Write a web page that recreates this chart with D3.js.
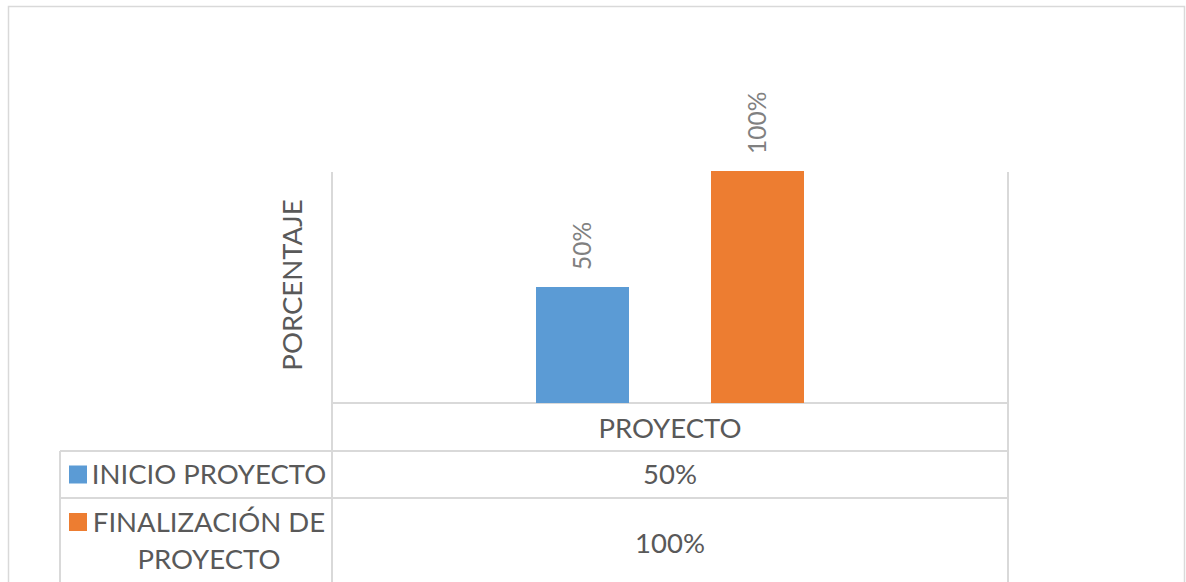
<!DOCTYPE html>
<html>
<head>
<meta charset="utf-8">
<script src="https://cdn.jsdelivr.net/npm/d3@7"></script>
<style>
  html, body { margin: 0; padding: 0; background: #fff; }
  svg { display: block; }
  text { font-family: Lato, "Open Sans", sans-serif; }
</style>
</head>
<body>
<svg id="chart" width="1186" height="582"></svg>
<script>
// Chart data
const categories = ["PROYECTO"];
const seriesNames = ["INICIO PROYECTO", "FINALIZACIÓN DE PROYECTO"];
const seriesLines = [["INICIO PROYECTO"], ["FINALIZACIÓN DE", "PROYECTO"]];
const seriesValues = [[0.5], [1.0]];
const seriesColors = ["#5B9BD5", "#ED7D31"];
const yDomain = [0, 1];

const W = 1186, H = 582;
const grid = "#d9d9d9";
const textColor = "#595959";
const labelColor = "#808080";
const fontMain = 27.5;
const fontLabel = 24.5;
const pct = d3.format(".0%");

const svg = d3.select("#chart");

// frame geometry
const plot = { left: 332, right: 1008, top: 171, bottom: 403 };
const table = { legendLeft: 60, rows: [403, 451, 498, 592] };

// outer chart border
svg.append("rect")
  .attr("x", 8.5).attr("y", 6.5)
  .attr("width", 1176).attr("height", 620)
  .attr("fill", "none").attr("stroke", grid).attr("stroke-width", 1.5);

const x0 = d3.scaleBand().domain(categories).range([plot.left, plot.right]);
const inset = 204;
const x1 = d3.scaleBand().domain(seriesNames)
  .range([inset, x0.bandwidth() - inset])
  .paddingInner(0.4686);
const y = d3.scaleLinear().domain(yDomain).range([plot.bottom, plot.top]);

// vertical borders of the plot / data table
const lines = svg.append("g").attr("stroke", grid).attr("stroke-width", 2);
[plot.left, plot.right].forEach(xv => {
  lines.append("line")
    .attr("x1", xv).attr("x2", xv)
    .attr("y1", plot.top + 1).attr("y2", H + 20);
});
// category axis line + table rows
lines.append("line")
  .attr("x1", plot.left).attr("x2", plot.right)
  .attr("y1", table.rows[0]).attr("y2", table.rows[0]);
table.rows.slice(1).forEach(yv => {
  lines.append("line")
    .attr("x1", table.legendLeft).attr("x2", plot.right)
    .attr("y1", yv).attr("y2", yv);
});
lines.append("line")
  .attr("x1", table.legendLeft).attr("x2", table.legendLeft)
  .attr("y1", table.rows[1]).attr("y2", H + 20);

// bars
const series = seriesNames.map((name, i) => ({ name, i, values: seriesValues[i] }));
const barG = svg.append("g");
series.forEach(s => {
  categories.forEach((c, ci) => {
    const v = s.values[ci];
    const bx = x0(c) + x1(s.name);
    barG.append("rect")
      .attr("x", bx).attr("width", x1.bandwidth())
      .attr("y", y(v)).attr("height", y(0) - y(v))
      .attr("fill", seriesColors[s.i]);
    // rotated value label above the bar
    const cx = bx + x1.bandwidth() / 2;
    const ty = y(v) - 17;
    barG.append("text")
      .attr("transform", `translate(${cx},${ty}) rotate(-90)`)
      .attr("text-anchor", "start")
      .attr("dy", "0.36em")
      .attr("fill", labelColor)
      .attr("font-size", fontLabel)
      .text(pct(v));
  });
});

// y-axis title
svg.append("text")
  .attr("transform", `translate(292,${(plot.top + plot.bottom) / 2 - 2}) rotate(-90)`)
  .attr("text-anchor", "middle").attr("dy", "0.36em")
  .attr("fill", textColor).attr("font-size", fontMain)
  .text("PORCENTAJE");

// category label row
categories.forEach(c => {
  svg.append("text")
    .attr("x", x0(c) + x0.bandwidth() / 2)
    .attr("y", (table.rows[0] + table.rows[1]) / 2 + 1)
    .attr("text-anchor", "middle").attr("dy", "0.36em")
    .attr("fill", textColor).attr("font-size", fontMain)
    .text(c);
});

// data table rows: legend key + values
series.forEach(s => {
  const top = table.rows[s.i + 1];
  const bottom = table.rows[s.i + 2];
  const nLines = seriesLines[s.i].length;
  const lineH = 37;
  const firstY = s.i === 0 ? (top + bottom) / 2 : top + 24;
  svg.append("rect")
    .attr("x", 69).attr("y", firstY - 9)
    .attr("width", 18).attr("height", 18)
    .attr("fill", seriesColors[s.i]);
  seriesLines[s.i].forEach((ln, li) => {
    svg.append("text")
      .attr("x", 209).attr("y", firstY + li * lineH)
      .attr("text-anchor", "middle").attr("dy", "0.36em")
      .attr("fill", textColor).attr("font-size", fontMain)
      .text(ln);
  });
  const midY = s.i === 0 ? (top + bottom) / 2 : firstY + (nLines - 1) * lineH / 2 + 3;
  categories.forEach((c, ci) => {
    svg.append("text")
      .attr("x", x0(c) + x0.bandwidth() / 2)
      .attr("y", midY)
      .attr("text-anchor", "middle").attr("dy", "0.36em")
      .attr("fill", textColor).attr("font-size", fontMain)
      .text(pct(s.values[ci]));
  });
});
</script>
</body>
</html>
